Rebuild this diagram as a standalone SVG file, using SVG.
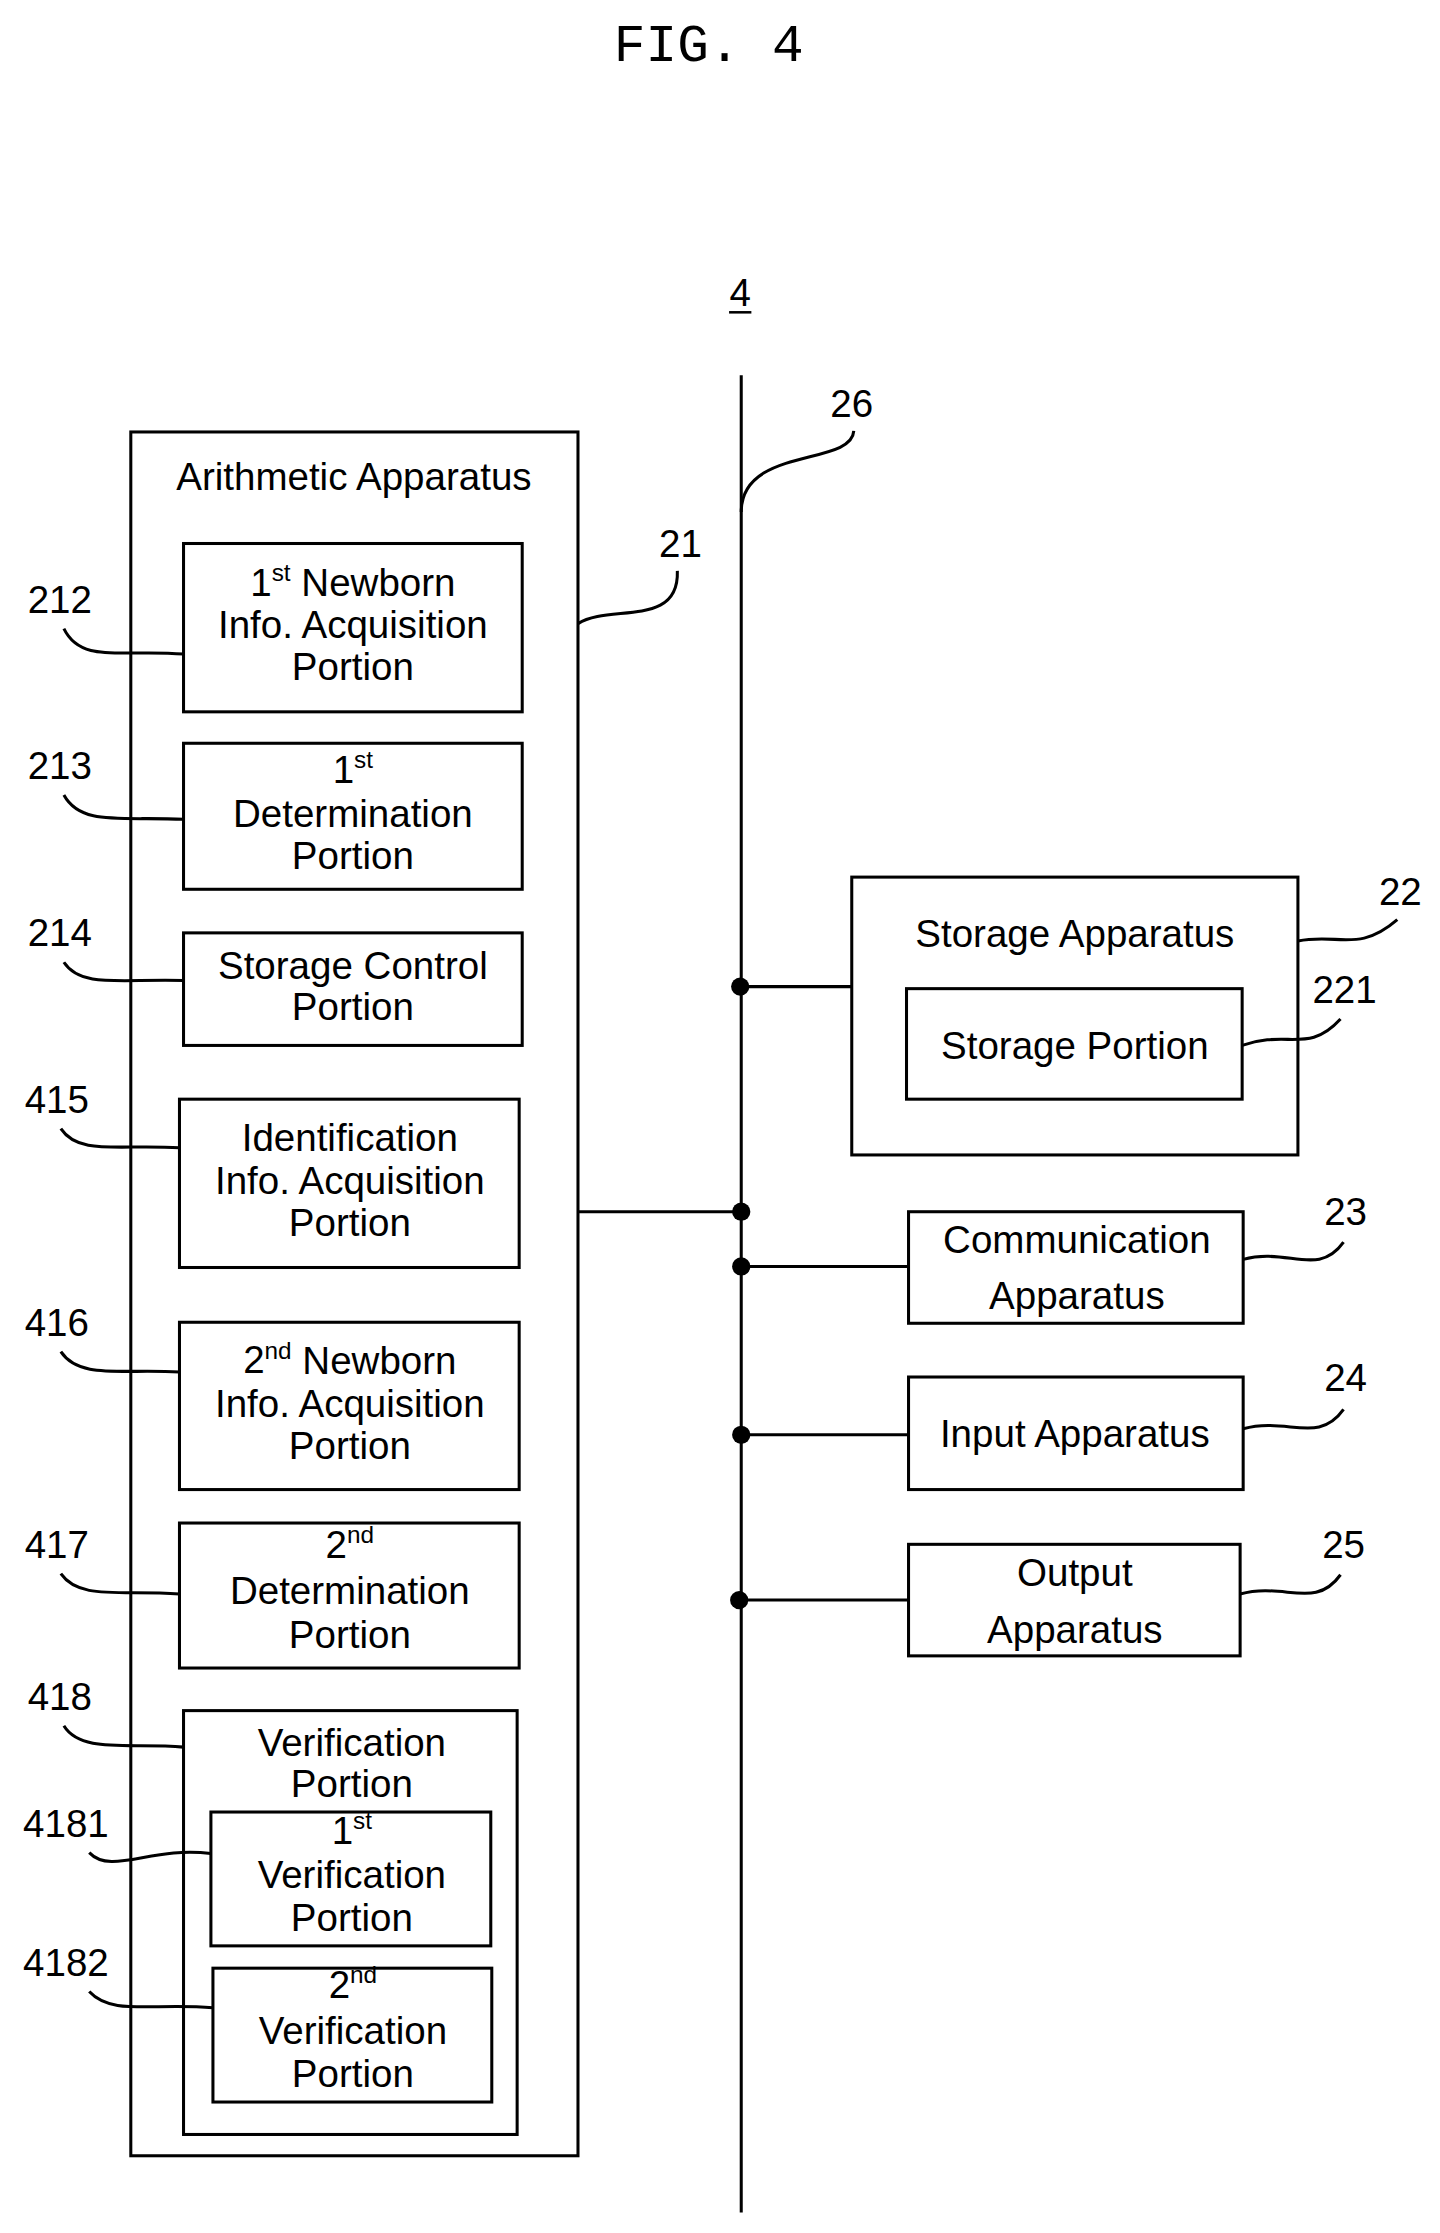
<svg xmlns="http://www.w3.org/2000/svg" width="1440" height="2233" viewBox="0 0 1440 2233">
<style>
.b{fill:none;stroke:#000;stroke-width:3}
.l{fill:none;stroke:#000;stroke-width:3}
text{font-family:"Liberation Sans","DejaVu Sans",sans-serif;font-size:38px;fill:#000;text-anchor:middle;dominant-baseline:central}
.s{font-size:24px}
</style>
<rect width="1440" height="2233" fill="#fff"/>
<g transform="scale(1.014)">
<text x="699" y="46" style="font-size:52px;font-family:'Liberation Mono',monospace">FIG. 4</text>
<text x="730" y="288">4</text>
<line x1="719" y1="308" x2="741" y2="308" stroke="#000" stroke-width="2.5"/>
<g id="connectors">
<line class="l" x1="731" y1="370" x2="731" y2="2182"/>
<path class="l" d="M731,505 C731,440 840,460 842,425"/>
<path class="l" d="M570,615 C600,595 670,620 668,563"/>
<line class="l" x1="730" y1="973" x2="840" y2="973"/>
<line class="l" x1="570" y1="1195" x2="731" y2="1195"/>
<line class="l" x1="731" y1="1249" x2="896" y2="1249"/>
<line class="l" x1="731" y1="1415" x2="896" y2="1415"/>
<line class="l" x1="729" y1="1578" x2="896" y2="1578"/>
<circle cx="730" cy="973" r="9"/><circle cx="731" cy="1195" r="9"/><circle cx="731" cy="1249" r="9"/><circle cx="731" cy="1415" r="9"/><circle cx="729" cy="1578" r="9"/>
<path class="l" d="M63,620 C80,655 120,640 181,645"/>
<path class="l" d="M63,784 C80,815 120,805 181,808"/>
<path class="l" d="M63,949 C80,975 120,965 181,967"/>
<path class="l" d="M60,1113 C78,1140 118,1128 177,1132"/>
<path class="l" d="M60,1333 C78,1360 118,1350 177,1353"/>
<path class="l" d="M60,1552 C78,1578 118,1568 177,1572"/>
<path class="l" d="M63,1702 C80,1730 130,1718 181,1723"/>
<path class="l" d="M88,1827 C110,1850 150,1820 208,1828"/>
<path class="l" d="M88,1964 C110,1988 150,1975 210,1980"/>
<path class="l" d="M1280,928 C1320,920 1340,940 1378,907"/>
<path class="l" d="M1225,1031 C1270,1015 1290,1040 1322,1005"/>
<path class="l" d="M1226,1242 C1270,1230 1300,1260 1325,1225"/>
<path class="l" d="M1226,1409 C1270,1397 1300,1425 1325,1390"/>
<path class="l" d="M1223,1572 C1267,1560 1297,1588 1322,1553"/>
</g>
<g id="n21"><rect class="b" x="129" y="426" width="441" height="1700"/><text x="349" y="470">Arithmetic Apparatus</text><text x="671" y="536">21</text></g>
<g id="n212"><rect class="b" x="181" y="536" width="334" height="166"/><text x="348" y="574">1<tspan class="s" dy="-10">st</tspan><tspan dy="10"> Newborn</tspan></text><text x="348" y="616">Info. Acquisition</text><text x="348" y="657">Portion</text><text x="59" y="591">212</text></g>
<g id="n213"><rect class="b" x="181" y="733" width="334" height="144"/><text x="348" y="759">1<tspan class="s" dy="-10">st</tspan></text><text x="348" y="802">Determination</text><text x="348" y="844">Portion</text><text x="59" y="755">213</text></g>
<g id="n214"><rect class="b" x="181" y="920" width="334" height="111"/><text x="348" y="952">Storage Control</text><text x="348" y="993">Portion</text><text x="59" y="920">214</text></g>
<g id="n415"><rect class="b" x="177" y="1084" width="335" height="166"/><text x="345" y="1122">Identification</text><text x="345" y="1164">Info. Acquisition</text><text x="345" y="1206">Portion</text><text x="56" y="1084">415</text></g>
<g id="n416"><rect class="b" x="177" y="1304" width="335" height="165"/><text x="345" y="1341">2<tspan class="s" dy="-10">nd</tspan><tspan dy="10"> Newborn</tspan></text><text x="345" y="1384">Info. Acquisition</text><text x="345" y="1426">Portion</text><text x="56" y="1304">416</text></g>
<g id="n417"><rect class="b" x="177" y="1502" width="335" height="143"/><text x="345" y="1523">2<tspan class="s" dy="-10">nd</tspan></text><text x="345" y="1569">Determination</text><text x="345" y="1612">Portion</text><text x="56" y="1523">417</text></g>
<g id="n418"><rect class="b" x="181" y="1687" width="329" height="418"/><text x="347" y="1718">Verification</text><text x="347" y="1759">Portion</text><text x="59" y="1673">418</text></g>
<g id="n4181"><rect class="b" x="208" y="1787" width="276" height="132"/><text x="347" y="1805">1<tspan class="s" dy="-10">st</tspan></text><text x="347" y="1849">Verification</text><text x="347" y="1891">Portion</text><text x="65" y="1798">4181</text></g>
<g id="n4182"><rect class="b" x="210" y="1941" width="275" height="132"/><text x="348" y="1957">2<tspan class="s" dy="-10">nd</tspan></text><text x="348" y="2002">Verification</text><text x="348" y="2045">Portion</text><text x="65" y="1935">4182</text></g>
<g id="n22"><rect class="b" x="840" y="865" width="440" height="274"/><text x="1060" y="921">Storage Apparatus</text><text x="1381" y="879">22</text></g>
<g id="n221"><rect class="b" x="894" y="975" width="331" height="109"/><text x="1060" y="1031">Storage Portion</text><text x="1326" y="976">221</text></g>
<g id="n23"><rect class="b" x="896" y="1195" width="330" height="110"/><text x="1062" y="1222">Communication</text><text x="1062" y="1278">Apparatus</text><text x="1327" y="1195">23</text></g>
<g id="n24"><rect class="b" x="896" y="1358" width="330" height="111"/><text x="1060" y="1414">Input Apparatus</text><text x="1327" y="1358">24</text></g>
<g id="n25"><rect class="b" x="896" y="1523" width="327" height="110"/><text x="1060" y="1551">Output</text><text x="1060" y="1607">Apparatus</text><text x="1325" y="1523">25</text></g>
<g id="n26"><text x="840" y="398">26</text></g>
</g>
</svg>
